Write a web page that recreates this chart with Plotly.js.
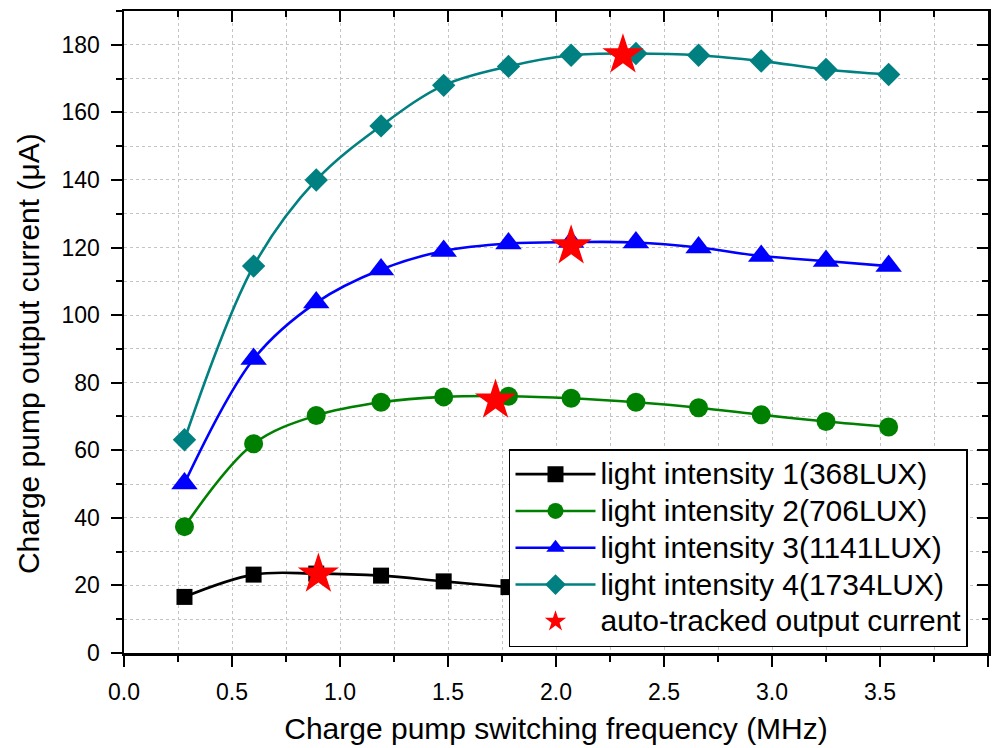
<!DOCTYPE html>
<html>
<head>
<meta charset="utf-8">
<script src="https://cdn.plot.ly/plotly-3.0.1.min.js"></script>
<style>html,body{margin:0;padding:0;background:#fff;}#chart{width:1003px;height:748px;}</style>
</head>
<body>
<div id="chart"></div>
<script>
// Data
const freq = [0.28, 0.60, 0.89, 1.19, 1.48, 1.78, 2.07, 2.37, 2.66, 2.95, 3.25, 3.54];
const light1 = [16.6, 23.2, 23.5, 22.9, 21.2, 19.5, 17.8, 16.2, 14.8, 13.5, 12.3, 11.2];
const light2 = [37.4, 61.9, 70.3, 74.2, 75.8, 76.0, 75.4, 74.2, 72.6, 70.5, 68.5, 66.9];
const light3 = [50.2, 87.0, 103.7, 113.5, 119.0, 121.2, 121.6, 121.5, 120.0, 117.5, 116.0, 114.5];
const light4 = [63.1, 114.5, 140.0, 156.0, 168.0, 173.6, 176.9, 177.4, 176.9, 175.2, 172.7, 171.2];
const trackedX = [0.90, 1.72, 2.07, 2.31];
const trackedY = [23.3, 74.8, 120.5, 177.0];
const seriesNames = ["light intensity 1(368LUX)", "light intensity 2(706LUX)", "light intensity 3(1141LUX)", "light intensity 4(1734LUX)", "auto-tracked output current"];
const xTitle = "Charge pump switching frequency (MHz)";
const yTitle = "Charge pump output current (\u03bcA)";

const FONT = "Arial, 'Liberation Sans', sans-serif";
const LEG_TEXT = 30;

function legendLabel(s) {
  return '<span style="font-size:' + LEG_TEXT + 'px">' + s + '</span>';
}

function series(y, name, color, symbol, size) {
  return {
    x: freq, y: y, name: legendLabel(name), type: "scatter", mode: "lines+markers",
    line: {color: color, width: 2.6, shape: "spline", smoothing: 1},
    marker: {color: color, symbol: symbol, size: size, line: {width: 0}}
  };
}

const traces = [
  series(light1, seriesNames[0], "#000000", "square", 16),
  series(light2, seriesNames[1], "#008000", "circle", 19),
  series(light3, seriesNames[2], "#0000ff", "triangle-up", 23),
  series(light4, seriesNames[3], "#008080", "diamond", 18),
  {
    x: trackedX, y: trackedY, name: legendLabel(seriesNames[4]), type: "scatter", mode: "markers",
    marker: {color: "#ff0000", symbol: "star", size: 31, line: {width: 0}}
  },
  // invisible carrier so the mirrored top/right frame axes are drawn
  {
    x: trackedX, y: trackedY, xaxis: "x2", yaxis: "y2", type: "scatter", mode: "markers",
    marker: {opacity: 0, size: 1}, showlegend: false, hoverinfo: "skip"
  }
];

const gridColor = "#c4c4c4";

const layout = {
  width: 1003, height: 748,
  margin: {l: 124, r: 15, t: 11, b: 95, pad: 0},
  paper_bgcolor: "#ffffff", plot_bgcolor: "#ffffff",
  font: {family: FONT, color: "#000000"},
  showlegend: true,
  xaxis: {
    range: [0, 4], tick0: 0, dtick: 0.5, tickformat: ".1f",
    ticks: "outside", ticklen: 11, tickwidth: 2, tickcolor: "#000",
    showline: true, linewidth: 2.5, linecolor: "#000",
    showgrid: true, gridcolor: gridColor, griddash: "dot", gridwidth: 1,
    zeroline: false,
    tickfont: {size: 23, family: FONT},
    ticklabelstandoff: 6,
    minor: {dtick: 0.25, ticks: "outside", ticklen: 6, tickwidth: 2, tickcolor: "#000",
            showgrid: true, gridcolor: gridColor, griddash: "dot", gridwidth: 1},
    title: {text: xTitle, font: {size: 30, family: FONT}, standoff: 14}
  },
  xaxis2: {
    overlaying: "x", side: "top", anchor: "y2",
    range: [0, 4], tick0: 0, dtick: 0.5,
    ticks: "inside", ticklen: 11, tickwidth: 2, tickcolor: "#000",
    showline: true, linewidth: 2.5, linecolor: "#000",
    showgrid: false, zeroline: false, showticklabels: false,
    minor: {dtick: 0.25, ticks: "inside", ticklen: 6, tickwidth: 2, tickcolor: "#000", showgrid: false}
  },
  yaxis: {
    range: [0, 190], tick0: 0, dtick: 20,
    ticks: "outside", ticklen: 11, tickwidth: 2, tickcolor: "#000",
    showline: true, linewidth: 2.5, linecolor: "#000",
    showgrid: true, gridcolor: gridColor, griddash: "dot", gridwidth: 1,
    zeroline: false,
    tickfont: {size: 23, family: FONT},
    ticklabelstandoff: 6,
    minor: {dtick: 10, ticks: "outside", ticklen: 6, tickwidth: 2, tickcolor: "#000",
            showgrid: true, gridcolor: gridColor, griddash: "dot", gridwidth: 1}
  },
  yaxis2: {
    overlaying: "y", side: "right", anchor: "x2",
    range: [0, 190], tick0: 0, dtick: 20,
    ticks: "inside", ticklen: 11, tickwidth: 2, tickcolor: "#000",
    showline: true, linewidth: 2.5, linecolor: "#000",
    showgrid: false, zeroline: false, showticklabels: false,
    minor: {dtick: 10, ticks: "inside", ticklen: 6, tickwidth: 2, tickcolor: "#000", showgrid: false}
  },
  annotations: [{
    text: yTitle, xref: "paper", yref: "paper",
    x: -0.111, y: 0.4657, xanchor: "center", yanchor: "middle",
    textangle: -90, showarrow: false,
    font: {size: 30, family: FONT, color: "#000"}
  }],
  legend: {
    x: 0.4456, y: 0.3174, xanchor: "left", yanchor: "top",
    bgcolor: "#ffffff", bordercolor: "#000000", borderwidth: 1.5,
    font: {size: 26, family: FONT, color: "#000"},
    itemwidth: 80, tracegroupgap: 0
  }
};

Plotly.newPlot("chart", traces, layout, {displayModeBar: false, staticPlot: true});
</script>
</body>
</html>
